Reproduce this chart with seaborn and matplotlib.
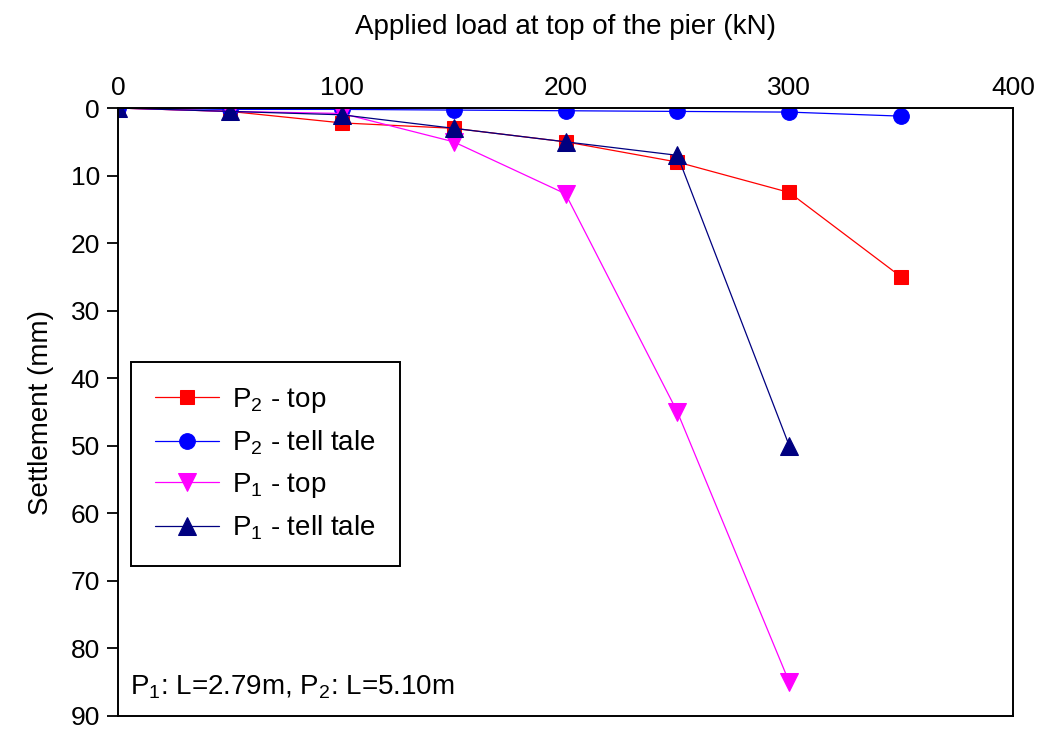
import numpy as np
import pandas as pd
import matplotlib
matplotlib.use("Agg")
import matplotlib.pyplot as plt
import seaborn as sns

# load in kN
load = [0, 50, 100, 150, 200, 250, 300, 350]
load_p1 = [0, 50, 100, 150, 200, 250, 300]

# settlements (mm)
p2_top = [0, 0.5, 2.2, 3, 5, 8, 12.5, 25]
p2_tell = [0, 0.2, 0.2, 0.3, 0.4, 0.5, 0.6, 1.2]
p1_top = [0, 0.5, 0.8, 5, 12.7, 45, 85]
p1_tell = [0, 0.5, 1, 3, 5, 7, 50]

series_names = [r"P$_\mathrm{2}$ - top", r"P$_\mathrm{2}$ - tell tale",
                r"P$_\mathrm{1}$ - top", r"P$_\mathrm{1}$ - tell tale"]

sns.set_style("ticks")
plt.rcParams['font.family'] = ['Liberation Sans', 'DejaVu Sans']
plt.rcParams['mathtext.fontset'] = 'custom'
plt.rcParams['mathtext.rm'] = 'Liberation Sans'
plt.rcParams['mathtext.it'] = 'Liberation Sans:italic'
for k in ['text.color', 'axes.labelcolor', 'xtick.color', 'ytick.color']:
    plt.rcParams[k] = 'black'

fig = plt.figure(figsize=(10.39, 7.30), dpi=100)
ax = fig.add_axes([0.1136, 0.0192, 0.8614, 0.8328])

# series styles
styles = [
    (load, p2_top, 'red', 's', 10.5),
    (load, p2_tell, 'blue', 'o', 11.3),
    (load_p1, p1_top, 'magenta', 'v', 13),
    (load_p1, p1_tell, '#000080', '^', 13),
]
for (xs, ys, c, mk, ms), name in zip(styles, series_names):
    df = pd.DataFrame({'load': xs, 'settle': ys})
    sns.lineplot(data=df, x='load', y='settle', ax=ax, color=c, lw=0.9,
                 marker=mk, markersize=ms, markerfacecolor=c,
                 markeredgecolor=c, label=name, sort=False)

ax.set_xlim(0, 400)
ax.set_ylim(90, 0)
ax.set_xticks([0, 100, 200, 300, 400])
ax.set_yticks(range(0, 91, 10))
ax.xaxis.tick_top()
ax.xaxis.set_label_position('top')
ax.tick_params(axis='x', length=0, labelsize=19, pad=6)
ax.tick_params(axis='y', left=True, right=False, length=8, width=1.3,
               direction='out', color='black', labelsize=19, pad=5)
ax.set_xlabel("Applied load at top of the pier (kN)", fontsize=20, labelpad=30)
ax.set_ylabel("Settlement (mm)", fontsize=20, labelpad=12)
for sp in ax.spines.values():
    sp.set_visible(True)
    sp.set_color('black')
    sp.set_linewidth(1.4)

leg = ax.legend(loc='upper left', bbox_to_anchor=(0.0145, 0.582), fontsize=20,
                frameon=True, fancybox=False, framealpha=1, edgecolor='black',
                borderpad=0.85, labelspacing=0.5, handlelength=2.3,
                handletextpad=0.5, borderaxespad=0)
leg.get_frame().set_linewidth(1.4)

ax.text(0.013, 0.025, r"P$_\mathrm{1}$: L=2.79m, P$_\mathrm{2}$: L=5.10m",
        transform=ax.transAxes, fontsize=20, ha='left', va='bottom')

fig.savefig("out.png", dpi=100)
